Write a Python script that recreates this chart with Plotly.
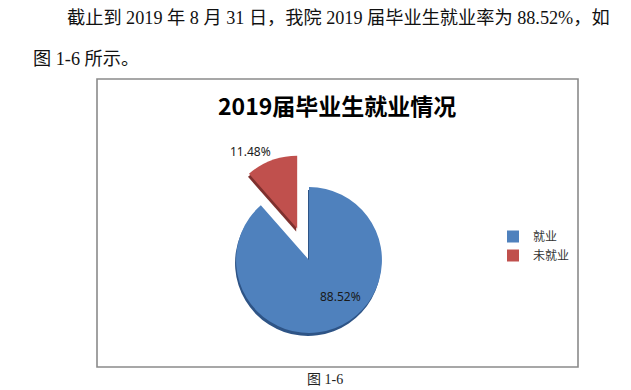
import plotly.graph_objects as go

W, H = 631, 390

# ---- data ----
labels = ["就业", "未就业"]
values = [88.52, 11.48]
colors = ["#4F81BD", "#C0504D"]
shadow_colors = ["#2E5486", "#7E302E"]
pulls = [0, 0.46]
title_text = "2019届毕业生就业情况"
para_line1 = "截止到 2019 年 8 月 31 日，我院 2019 届毕业生就业率为 88.52%，如"
para_line2 = "图 1-6 所示。"
caption = "图 1-6"


def px(x):
    return x / W


def py(y):
    return 1 - y / H


# pie box in pixels (centre 309,260; radius ~73)
cx, cy, half = 309, 260, 106.5
dom_x = [px(cx - half), px(cx + half)]
dom_y = [py(cy + half), py(cy - half)]
shadow_dom_y = [py(cy + half + 3), py(cy - half + 3)]

fig = go.Figure()

# shadow (3D rim effect)
fig.add_trace(go.Pie(
    labels=labels, values=values, sort=False, direction="clockwise", rotation=0,
    pull=pulls, marker=dict(colors=shadow_colors, line=dict(width=0)),
    textinfo="none", hoverinfo="skip", showlegend=False,
    domain=dict(x=[dom_x[0] - 1 / W, dom_x[1] - 1 / W], y=shadow_dom_y),
))

fig.add_trace(go.Pie(
    labels=labels, values=values, sort=False, direction="clockwise", rotation=0,
    pull=pulls, marker=dict(colors=colors, line=dict(width=0)),
    textinfo="none", showlegend=True,
    domain=dict(x=dom_x, y=dom_y),
))

annotations = []
# paragraph text
annotations.append(dict(x=px(65), y=py(18), xref="paper", yref="paper", text=para_line1,
                        showarrow=False, xanchor="left", yanchor="middle",
                        font=dict(family="Liberation Serif, Noto Sans CJK SC", size=18.2, color="#111")))
annotations.append(dict(x=px(31), y=py(59), xref="paper", yref="paper", text=para_line2,
                        showarrow=False, xanchor="left", yanchor="middle",
                        font=dict(family="Liberation Serif, Noto Sans CJK SC", size=18.2, color="#111")))
# chart title
annotations.append(dict(x=px(337), y=py(105), xref="paper", yref="paper", text="<b>" + title_text + "</b>",
                        showarrow=False, xanchor="center", yanchor="middle",
                        font=dict(family="Noto Sans CJK SC", size=23, color="#000")))
# data labels
label_pos = [(340, 296), (250, 152)]
for v, (lx, ly) in zip(values, label_pos):
    annotations.append(dict(x=px(lx), y=py(ly), xref="paper", yref="paper", text=f"{v:.2f}%",
                            showarrow=False, xanchor="center", yanchor="middle",
                            font=dict(family="Noto Sans, Noto Sans CJK SC", size=12, color="#1a1a1a")))
# caption
annotations.append(dict(x=px(325), y=py(379), xref="paper", yref="paper", text=caption,
                        showarrow=False, xanchor="center", yanchor="middle",
                        font=dict(family="Liberation Serif, Noto Sans CJK SC", size=14, color="#222")))

shapes = [dict(type="rect", xref="paper", yref="paper",
               x0=px(97), x1=px(578), y0=py(367), y1=py(79),
               line=dict(color="#8a8a8a", width=1.6), fillcolor="rgba(0,0,0,0)")]

fig.update_layout(
    width=W, height=H,
    margin=dict(l=0, r=0, t=0, b=0),
    paper_bgcolor="white", plot_bgcolor="white",
    annotations=annotations, shapes=shapes,
    legend=dict(x=px(493), y=py(222), xanchor="left", yanchor="top",
                font=dict(family="Noto Sans CJK SC", size=12, color="#333"),
                bgcolor="rgba(0,0,0,0)", itemclick=False, itemwidth=30),
)

fig.write_html("out.html", config={"displayModeBar": False})

# remove the browser's default page margin so the figure fills the window exactly
with open("out.html", "r", encoding="utf-8") as f:
    html = f.read()
html = html.replace("<body>", '<body style="margin:0;padding:0;overflow:hidden">', 1)
with open("out.html", "w", encoding="utf-8") as f:
    f.write(html)
